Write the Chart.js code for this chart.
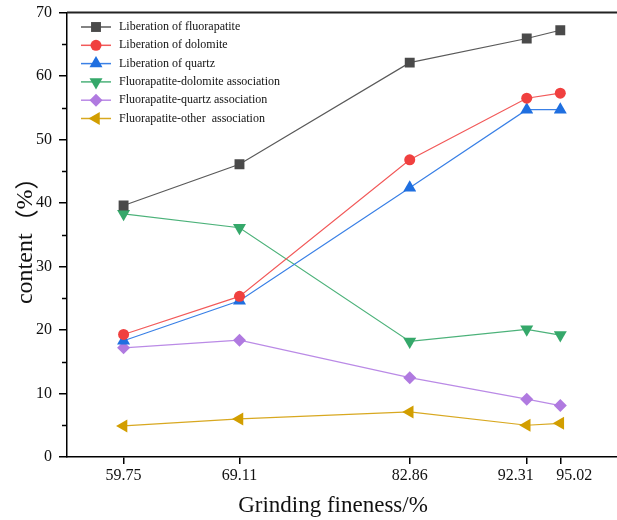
<!DOCTYPE html>
<html>
<head>
<meta charset="utf-8">
<script src="https://cdn.jsdelivr.net/npm/chart.js@4.4.0/dist/chart.umd.min.js"></script>
<style>
  html, body { margin: 0; padding: 0; background: #fff; overflow: hidden; }
</style>
</head>
<body>
<canvas id="fineChart" width="617" height="520"></canvas>
<script>
// grinding fineness (x values)
const fineness = [59.75, 69.11, 82.86, 92.31, 95.02];

// series values (content, %)
const fluorapatiteLib = [39.6, 46.1, 62.1, 65.9, 67.2];
const dolomiteLib = [19.3, 25.3, 46.8, 56.5, 57.3];
const quartzLib = [18.3, 24.6, 42.4, 54.7, 54.7];
const fapDolomite = [38.3, 36.1, 18.2, 20.1, 19.2];
const fapQuartz = [17.2, 18.4, 12.5, 9.1, 8.1];
const fapOther = [4.9, 6.0, 7.1, 5.0, 5.3];

const yTicks = [0, 10, 20, 30, 40, 50, 60, 70];
const yMinorTicks = [5, 15, 25, 35, 45, 55, 65];

const xTitle = 'Grinding fineness/%';
const yTitle = 'content（%）';

const serif = '"Liberation Serif", "Times New Roman", serif';
const cjk = '"Noto Sans CJK SC", sans-serif';

// the two crowded x labels are nudged apart, as in the original
const xLabelNudge = [0, 0, 0, -11, 14];

function toPoints(values) {
    return values.map((v, i) => ({x: fineness[i], y: v}));
}

function series(label, values, color, lineColor, pointStyle, radius, rotation) {
    return {
        label,
        data: toPoints(values),
        borderColor: lineColor,
        backgroundColor: color,
        pointBackgroundColor: color,
        pointBorderColor: color,
        pointBorderWidth: 0,
        borderWidth: 1.2,
        pointStyle,
        pointRadius: radius,
        pointRotation: rotation,
        tension: 0,
    };
}

const datasets = [
    series('Liberation of fluorapatite', fluorapatiteLib, '#4a4a4a', '#5a5a5a', 'rect', 7, 0),
    series('Liberation of dolomite', dolomiteLib, '#f0403f', '#f25a5a', 'circle', 5.5, 0),
    series('Liberation of quartz', quartzLib, '#1f6fe0', '#3a80e6', 'triangle', 7.5, 0),
    series('Fluorapatite-dolomite association', fapDolomite, '#35a86a', '#4cb27a', 'triangle', 7.5, 180),
    series('Fluorapatite-quartz association', fapQuartz, '#b07ae0', '#ba8ae6', 'rectRot', 6.5, 0),
    series('Fluorapatite-other  association', fapOther, '#d29e00', '#d8a820', 'triangle', 7.5, -90),
];

// top frame line, minor y ticks, x labels, axis titles and the legend with line + marker
const framePlugin = {
    id: 'frameAndLegend',
    afterDraw(chart) {
        const {ctx, chartArea, scales} = chart;
        ctx.save();
        ctx.strokeStyle = '#222';
        ctx.lineWidth = 2;
        ctx.beginPath();
        ctx.moveTo(chartArea.left, chartArea.top);
        ctx.lineTo(chartArea.right, chartArea.top);
        ctx.stroke();

        ctx.strokeStyle = '#000';
        ctx.lineWidth = 1.5;
        for (const v of yMinorTicks) {
            const y = Math.round(scales.y.getPixelForValue(v)) + 0.5;
            ctx.beginPath();
            ctx.moveTo(chartArea.left - 5, y);
            ctx.lineTo(chartArea.left, y);
            ctx.stroke();
        }

        // x tick labels
        ctx.font = '16px ' + serif;
        ctx.fillStyle = '#111';
        ctx.textAlign = 'center';
        ctx.textBaseline = 'middle';
        fineness.forEach((v, i) => {
            const x = scales.x.getPixelForValue(v) + xLabelNudge[i];
            ctx.fillText(v.toFixed(2), x, chartArea.bottom + 18.5);
        });

        // x title, a little left of the plot centre like the original
        ctx.font = '23px ' + serif;
        ctx.fillText(xTitle, chartArea.left + (chartArea.right - chartArea.left) / 2 - 9, chartArea.bottom + 49);

        // y title: latin word in serif, full-width brackets each given a full em box
        const size = 24;
        const cut = yTitle.indexOf('（');
        const word = yTitle.slice(0, cut);
        const [open, pct, close] = Array.from(yTitle.slice(cut));
        const wordFont = size + 'px ' + serif;
        const unitFont = size + 'px ' + cjk;
        ctx.font = wordFont;
        const w1 = ctx.measureText(word).width;
        const wp = ctx.measureText(pct).width;
        const total = w1 + size + wp + size;
        ctx.save();
        ctx.translate(26, (chartArea.top + chartArea.bottom) / 2);
        ctx.rotate(-Math.PI / 2);
        let cx = -total / 2;
        ctx.textAlign = 'left';
        ctx.fillText(word, cx, 0);
        cx += w1;
        ctx.font = unitFont;
        ctx.textAlign = 'right';
        ctx.fillText(open, cx + size, 0);
        cx += size;
        ctx.font = wordFont;
        ctx.textAlign = 'left';
        ctx.fillText(pct, cx, 0);
        cx += wp;
        ctx.font = unitFont;
        ctx.fillText(close, cx, 0);
        ctx.restore();

        // legend
        const x0 = chartArea.left + 14;
        const x1 = x0 + 30;
        let y = chartArea.top + 14.5;
        ctx.font = '12px ' + serif;
        ctx.textAlign = 'left';
        chart.data.datasets.forEach(ds => {
            ctx.strokeStyle = ds.borderColor;
            ctx.lineWidth = 1.5;
            ctx.beginPath();
            ctx.moveTo(x0, y);
            ctx.lineTo(x1, y);
            ctx.stroke();
            ctx.fillStyle = ds.pointBackgroundColor;
            ctx.strokeStyle = ds.pointBorderColor;
            Chart.helpers.drawPoint(ctx, {
                pointStyle: ds.pointStyle,
                rotation: ds.pointRotation,
                radius: ds.pointRadius,
                borderWidth: 0,
            }, (x0 + x1) / 2, y);
            ctx.fillStyle = '#111';
            ctx.fillText(ds.label, x1 + 8, y);
            y += 18.3;
        });
        ctx.restore();
    },
};

new Chart(document.getElementById('fineChart').getContext('2d'), {
    type: 'line',
    data: {datasets},
    options: {
        responsive: false,
        animation: false,
        layout: {
            autoPadding: false,
            padding: {top: 12.5, right: 0, left: 0, bottom: 0},
        },
        plugins: {
            legend: {display: false},
            tooltip: {enabled: false},
        },
        scales: {
            x: {
                type: 'linear',
                min: 55.18,
                max: 99.6,
                afterBuildTicks: (scale) => {
                    scale.ticks = fineness.map(v => ({value: v}));
                },
                afterFit: (scale) => {
                    scale.height = 63;
                    scale.paddingLeft = 0;
                    scale.paddingRight = 0;
                },
                ticks: {display: false},
                grid: {
                    drawOnChartArea: false,
                    drawTicks: true,
                    tickLength: 7,
                    color: '#000',
                    lineWidth: 1.5,
                },
                border: {display: true, color: '#000', width: 1.5},
                title: {display: false},
            },
            y: {
                min: 0,
                max: 70,
                afterBuildTicks: (scale) => {
                    scale.ticks = yTicks.map(v => ({value: v}));
                },
                afterFit: (scale) => {
                    scale.width = 67;
                    scale.paddingTop = 0;
                    scale.paddingBottom = 0;
                },
                ticks: {
                    color: '#111',
                    font: {family: serif, size: 16},
                    padding: 7,
                },
                grid: {
                    drawOnChartArea: false,
                    drawTicks: true,
                    tickLength: 8,
                    color: '#000',
                    lineWidth: 1.5,
                },
                border: {display: true, color: '#000', width: 1.5},
                title: {display: false},
            },
        },
    },
    plugins: [framePlugin],
});
</script>
</body>
</html>
